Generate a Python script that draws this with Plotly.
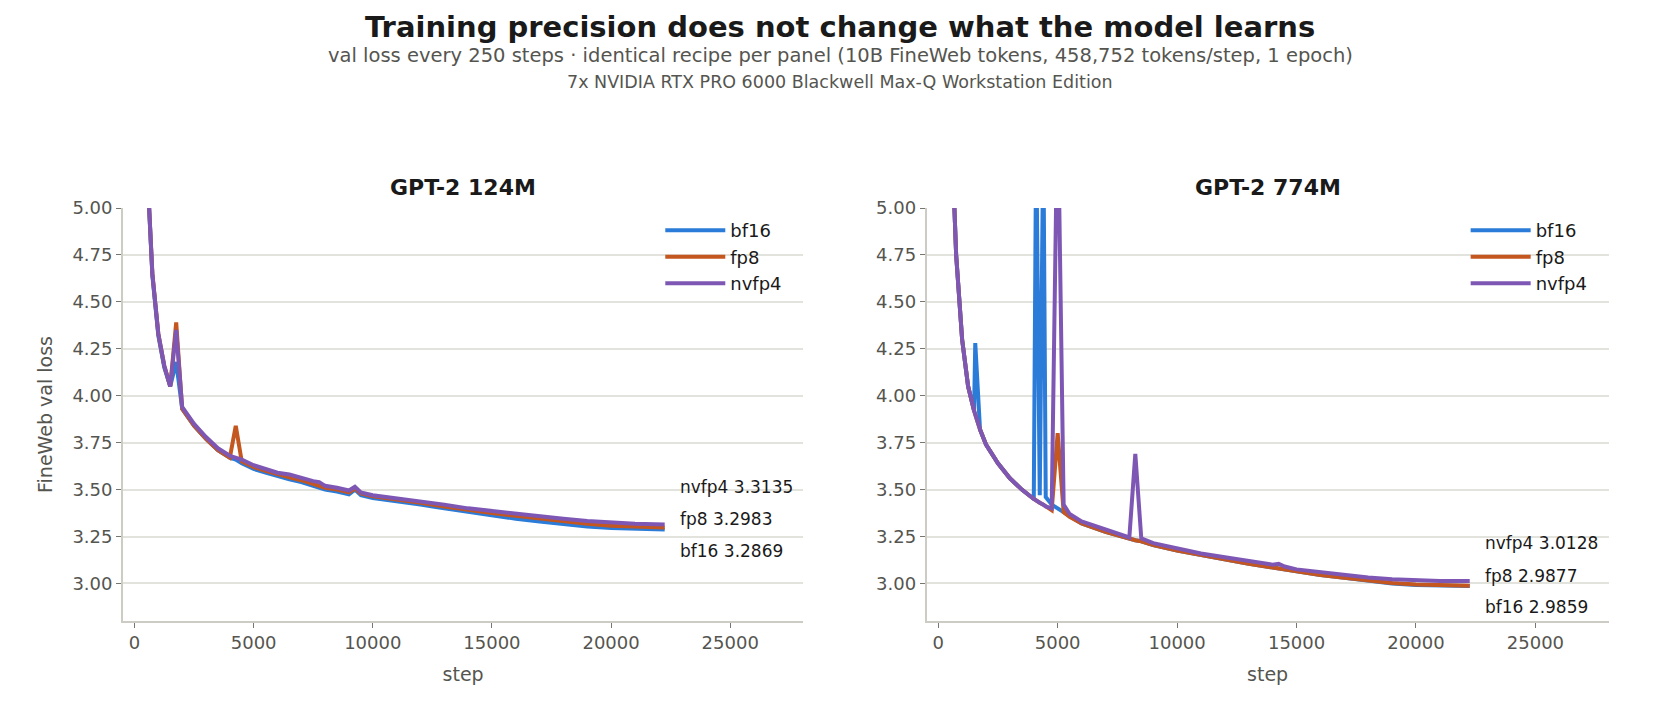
import plotly.graph_objects as go
from plotly.subplots import make_subplots

# ---- GPT-2 124M ----
steps_a = [500, 750, 1000, 1250, 1500, 1750, 2000, 2500, 3000, 3500, 4000, 4250, 4500, 5000, 5500,
           6000, 6500, 7000, 7500, 7750, 8000, 8500, 9000, 9250, 9500, 10000, 11000, 12000, 13000,
           14000, 15000, 16000, 17000, 18000, 19000, 20000, 21000, 22250]
bf16_a = [5.30, 4.64, 4.32, 4.15, 4.05, 4.18, 3.93, 3.84, 3.77, 3.71, 3.67, 3.66, 3.64, 3.61, 3.59,
          3.57, 3.555, 3.54, 3.52, 3.51, 3.50, 3.49, 3.475, 3.50, 3.47, 3.455, 3.44, 3.42, 3.40,
          3.38, 3.36, 3.345, 3.33, 3.315, 3.303, 3.295, 3.29, 3.2869]
fp8_a = [5.30, 4.65, 4.33, 4.16, 4.05, 4.39, 3.93, 3.84, 3.77, 3.71, 3.67, 3.84, 3.65, 3.62, 3.60,
         3.58, 3.565, 3.55, 3.53, 3.52, 3.51, 3.50, 3.485, 3.505, 3.48, 3.465, 3.45, 3.43, 3.41,
         3.39, 3.375, 3.36, 3.345, 3.33, 3.318, 3.308, 3.302, 3.2983]
nvfp4_a = [5.30, 4.65, 4.33, 4.16, 4.05, 4.35, 3.94, 3.85, 3.78, 3.72, 3.68, 3.67, 3.66, 3.63, 3.61,
           3.59, 3.58, 3.56, 3.545, 3.54, 3.52, 3.51, 3.495, 3.515, 3.485, 3.47, 3.455, 3.44, 3.42,
           3.40, 3.385, 3.37, 3.355, 3.345, 3.333, 3.323, 3.318, 3.3135]

# ---- GPT-2 774M ----
steps_b = [500, 750, 1000, 1250, 1500, 1550, 1750, 2000, 2500, 3000, 3500, 4000, 4100, 4250, 4400,
           4500, 4750, 5000, 5250, 5500, 6000, 7000, 8000, 8250, 8500, 9000, 10000, 11000, 12000,
           13000, 14000, 14250, 14500, 15000, 16000, 17000, 18000, 19000, 20000, 21000, 22250]
bf16_b = [5.60, 4.75, 4.30, 4.05, 3.92, 4.28, 3.82, 3.74, 3.64, 3.56, 3.50, 3.45, 5.40, 3.47, 5.40,
          3.46, 3.42, 3.40, 3.38, 3.36, 3.32, 3.275, 3.235, 3.23, 3.225, 3.205, 3.175, 3.15, 3.125,
          3.105, 3.085, 3.08, 3.075, 3.06, 3.045, 3.03, 3.015, 3.0, 2.992, 2.988, 2.9859]
fp8_b = [5.60, 4.75, 4.30, 4.05, 3.92, 3.90, 3.82, 3.74, 3.64, 3.56, 3.50, 3.45, 3.44, 3.43, 3.42,
         3.41, 3.39, 3.80, 3.38, 3.355, 3.32, 3.275, 3.235, 3.23, 3.225, 3.205, 3.175, 3.15, 3.125,
         3.105, 3.085, 3.08, 3.075, 3.06, 3.045, 3.03, 3.015, 3.002, 2.994, 2.99, 2.9877]
nvfp4_b = [5.60, 4.75, 4.30, 4.05, 3.92, 3.90, 3.82, 3.74, 3.64, 3.56, 3.50, 3.45, 3.44, 3.43, 3.42,
           3.41, 3.40, 5.60, 3.42, 3.37, 3.33, 3.285, 3.245, 3.69, 3.24, 3.215, 3.185, 3.16, 3.14,
           3.12, 3.10, 3.105, 3.09, 3.075, 3.06, 3.045, 3.032, 3.022, 3.016, 3.013, 3.0128]

series_names = ["bf16", "fp8", "nvfp4"]
colors = ["#2b7bd9", "#c4561f", "#7e57b5"]
final_a = [3.2869, 3.2983, 3.3135]
final_b = [2.9859, 2.9877, 3.0128]
panel_titles = ["GPT-2 124M", "GPT-2 774M"]

D1 = [0.069, 0.478]
D2 = [0.552, 0.962]

fig = make_subplots(rows=1, cols=2, horizontal_spacing=0.07, subplot_titles=panel_titles)
panels = [(steps_a, [bf16_a, fp8_a, nvfp4_a]), (steps_b, [bf16_b, fp8_b, nvfp4_b])]
for p, (st, ys) in enumerate(panels):
    for i, y in enumerate(ys):
        fig.add_trace(go.Scatter(x=st, y=y, mode="lines", name=series_names[i],
                                 line=dict(color=colors[i], width=4),
                                 legend="legend" if p == 0 else "legend2",
                                 showlegend=True), row=1, col=p + 1)

ax = dict(showgrid=False, showline=True, linecolor="#ccccc4", linewidth=1.5, ticks="outside",
          tickcolor="#777770", ticklen=5, tickfont=dict(size=18, color="#555550"), zeroline=False,
          title=dict(text="step", font=dict(size=19, color="#555550")),
          range=[-490, 28070], tickvals=[0, 5000, 10000, 15000, 20000, 25000], tickformat="d")
ay = dict(showgrid=True, gridcolor="#e3e3de", gridwidth=1.5, showline=True, linecolor="#ccccc4",
          linewidth=1.5, ticks="outside", tickcolor="#777770", ticklen=5,
          tickfont=dict(size=18, color="#555550"), zeroline=False, range=[2.8, 5.0],
          tickvals=[3.0, 3.25, 3.5, 3.75, 4.0, 4.25, 4.5, 4.75, 5.0], tickformat=".2f")
fig.update_xaxes(**ax)
fig.update_yaxes(**ay)
fig.update_xaxes(domain=D1, row=1, col=1)
fig.update_xaxes(domain=D2, row=1, col=2)
fig.update_yaxes(title=dict(text="FineWeb val loss", font=dict(size=19, color="#555550")), row=1, col=1)

for a in fig.layout.annotations:
    a.font = dict(size=22, color="#1a1a1a", family="DejaVu Sans")
    a.text = "<b>" + a.text + "</b>"
    a.yshift = 6
fig.layout.annotations[0].x = sum(D1) / 2
fig.layout.annotations[1].x = sum(D2) / 2

# end labels
label_y_a = [3.175, 3.345, 3.514]
label_y_b = [2.876, 3.04, 3.215]
for xref, yref, finals, ly in [("x", "y", final_a, label_y_a), ("x2", "y2", final_b, label_y_b)]:
    for i in range(3):
        fig.add_annotation(x=22800, y=ly[i], xref=xref, yref=yref, xanchor="left", showarrow=False,
                           text=f"{series_names[i]} {finals[i]:.4f}",
                           font=dict(size=17, color="#1a1a1a"))

fig.add_annotation(x=0.5, y=1.0, xref="paper", yref="paper", yanchor="middle", yshift=181,
                   showarrow=False,
                   text="<b>Training precision does not change what the model learns</b>",
                   font=dict(size=29, color="#1a1a1a"))
fig.add_annotation(x=0.5, y=1.0, xref="paper", yref="paper", yanchor="middle", yshift=153,
                   showarrow=False,
                   text="val loss every 250 steps · identical recipe per panel (10B FineWeb tokens, 458,752 tokens/step, 1 epoch)",
                   font=dict(size=19.5, color="#555550"))
fig.add_annotation(x=0.5, y=1.0, xref="paper", yref="paper", yanchor="middle", yshift=126,
                   showarrow=False,
                   text="7x NVIDIA RTX PRO 6000 Blackwell Max-Q Workstation Edition",
                   font=dict(size=17.5, color="#555550"))

leg = dict(font=dict(size=18, color="#1a1a1a"), bgcolor="rgba(255,255,255,0)", yanchor="top",
           xanchor="left", itemwidth=60, tracegroupgap=0)
fig.update_layout(
    width=1664, height=704, template="plotly_white",
    paper_bgcolor="white", plot_bgcolor="white",
    font=dict(family="DejaVu Sans"),
    margin=dict(l=0, r=0, t=200, b=91),
    legend=dict(x=0.392, y=0.99, **leg),
    legend2=dict(x=0.876, y=0.99, **leg),
)
fig.write_html("out.html")
